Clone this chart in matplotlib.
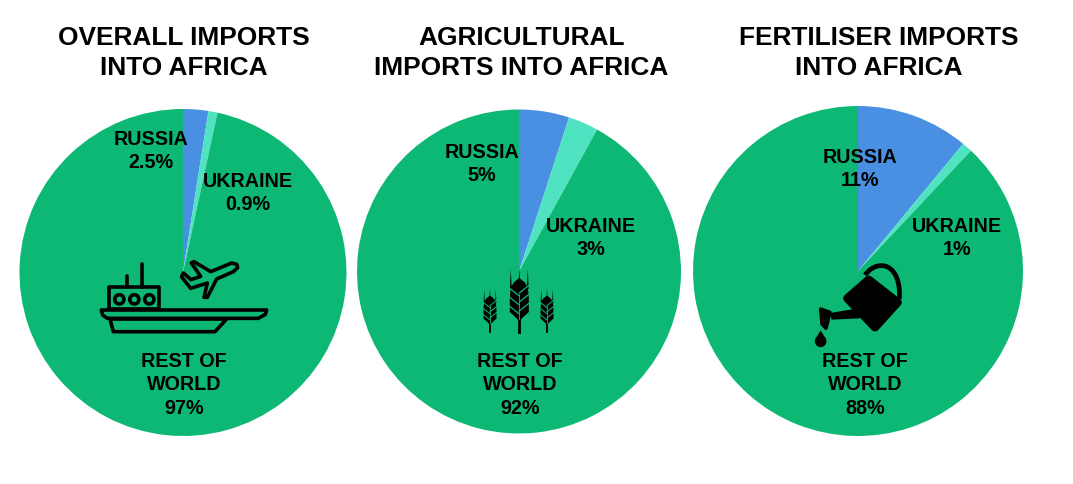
import matplotlib
matplotlib.use('Agg')
import matplotlib.pyplot as plt
from matplotlib.patches import Circle, Polygon, PathPatch
from matplotlib.path import Path as MPath

# Data
titles = ['OVERALL IMPORTS\nINTO AFRICA', 'AGRICULTURAL\nIMPORTS INTO AFRICA', 'FERTILISER IMPORTS\nINTO AFRICA']
categories = ['RUSSIA', 'UKRAINE', 'REST OF\nWORLD']
overall = [2.5, 0.9, 97]
agricultural = [5, 3, 92]
fertiliser = [11, 1, 88]
overall_labels = ['2.5%', '0.9%', '97%']
agricultural_labels = ['5%', '3%', '92%']
fertiliser_labels = ['11%', '1%', '88%']

# Layout in image pixels, y measured from the top
W, H = 1073, 485
centers = [(183, 273.5), (519, 272.5), (858, 272)]
radii = [163.5, 162, 165]
title_pos = [(183.5, 53), (521.5, 53), (879, 53)]
label_pos = [
    [(151, 151), (248, 193), (184, 385)],
    [(482, 164), (591, 238), (520, 385)],
    [(860, 169), (957, 238), (865, 385)],
]
colors = ['#4A90E2', '#50E3C2', '#0CB874']

plt.rcParams['font.family'] = ['Liberation Sans', 'DejaVu Sans']

fig = plt.figure(figsize=(W / 100, H / 100), dpi=100)
ax = fig.add_axes([0, 0, 1, 1])


def fy(y):
    return H - y


series = [overall, agricultural, fertiliser]
series_labels = [overall_labels, agricultural_labels, fertiliser_labels]
for i, values in enumerate(series):
    cx, cy = centers[i]
    ax.pie(values, colors=colors, startangle=90, counterclock=False,
           center=(cx, fy(cy)), radius=radii[i], frame=True)
    ax.text(title_pos[i][0], fy(title_pos[i][1]), titles[i], ha='center', va='center',
            fontsize=18.9, fontweight='bold', color='black', linespacing=1.3)
    for j, cat in enumerate(categories):
        x, y = label_pos[i][j]
        ax.text(x, fy(y), cat + '\n' + series_labels[i][j], ha='center', va='center',
                fontsize=14.2, fontweight='bold', color='black', linespacing=1.28)

ax.set_xlim(0, W)
ax.set_ylim(0, H)
ax.set_aspect('equal')
ax.axis('off')


def zoomer(x0, y0):
    return lambda zx, zy: (x0 + zx / 3, fy(y0 + zy / 3))


GREEN = colors[2]

# Ship and plane
z = zoomer(90, 250)
line = dict(fill=False, ec='black', lw=2.6, joinstyle='round', zorder=5)
ax.add_patch(Polygon([z(34, 183), z(530, 183), z(526, 196), z(505, 208), z(52, 208), z(38, 198)], **line))
ax.add_patch(Polygon([z(60, 210), z(70, 248), z(375, 248), z(410, 210)], **line))
ax.add_patch(Polygon([z(58, 180), z(58, 115), z(208, 115), z(208, 180)], **line))
for zx in [88, 133, 178]:
    ax.add_patch(Circle(z(zx, 151), 4.6, **line))
ax.plot(*zip(z(110, 82), z(110, 115)), color='black', lw=2.6, solid_capstyle='round', zorder=5)
ax.plot(*zip(z(157, 45), z(157, 115)), color='black', lw=2.6, solid_capstyle='round', zorder=5)
ax.add_patch(Polygon([z(440, 46), z(425, 42), z(362, 68), z(312, 38), z(304, 42), z(332, 82), z(303, 92),
                      z(280, 72), z(275, 84), z(302, 118), z(352, 102), z(342, 145), z(352, 145),
                      z(380, 90), z(430, 68), z(443, 56)], **line))


# Wheat: s is the scale, the big ear is 65 px tall at s=1
def wheat(cx, top, s):
    def p(dx, dy):
        return (cx + dx * s, fy(top + dy * s))

    ax.plot(*zip(p(0, 48), p(0, 65)), color='black', lw=2.0 * s, zorder=5)
    for dx, t in [(-8.5, 2), (0, 0), (8.5, 2)]:
        ax.add_patch(Polygon([p(dx - 0.9, 22), p(dx, t), p(dx + 0.9, 22)], fc='black', ec='none', zorder=5))
    ax.add_patch(Polygon([p(0, 11), p(5, 15), p(8.5, 20), p(9.5, 30), p(9.5, 45), p(4, 50), p(1, 53),
                          p(-1, 53), p(-4, 50), p(-9.5, 45), p(-9.5, 30), p(-8.5, 20), p(-5, 15)],
                         fc='black', ec='none', zorder=5))
    for k in [24, 33, 42]:
        ax.plot(*zip(p(-10, k - 3), p(0, k + 5)), color=GREEN, lw=0.9 * max(s, 0.8), zorder=6)
        ax.plot(*zip(p(10, k - 6), p(0, k + 2)), color=GREEN, lw=0.9 * max(s, 0.8), zorder=6)
    ax.plot(*zip(p(0, 27), p(0, 52)), color=GREEN, lw=0.6, zorder=6)


wheat(519.3, 268, 1)
wheat(490, 289, 0.68)
wheat(547, 289, 0.68)

# Watering can
z = zoomer(800, 250)
ax.add_patch(Polygon([z(142, 148), z(206, 92), z(293, 160), z(225, 235)], fc='black', ec='black', lw=6,
                     joinstyle='round', zorder=5))
ax.add_patch(Polygon([z(175, 178), z(90, 192), z(95, 212), z(180, 208)], fc='black', ec='none', zorder=5))
ax.add_patch(Polygon([z(62, 180), z(90, 190), z(78, 238), z(66, 225)], fc='black', ec='black', lw=2.5,
                     joinstyle='round', zorder=5))
handle = MPath([z(195, 78), z(235, 25), z(305, 45), z(298, 150)],
               [MPath.MOVETO, MPath.CURVE4, MPath.CURVE4, MPath.CURVE4])
ax.add_patch(PathPatch(handle, fill=False, ec='black', lw=3.4, zorder=5))
ax.add_patch(Circle(z(62, 277), 5.8, fc='black', ec='none', zorder=5))
ax.add_patch(Polygon([z(62, 244), z(45, 272), z(79, 272)], fc='black', ec='none', zorder=5))

fig.savefig('out.png', dpi=100, facecolor='white')
